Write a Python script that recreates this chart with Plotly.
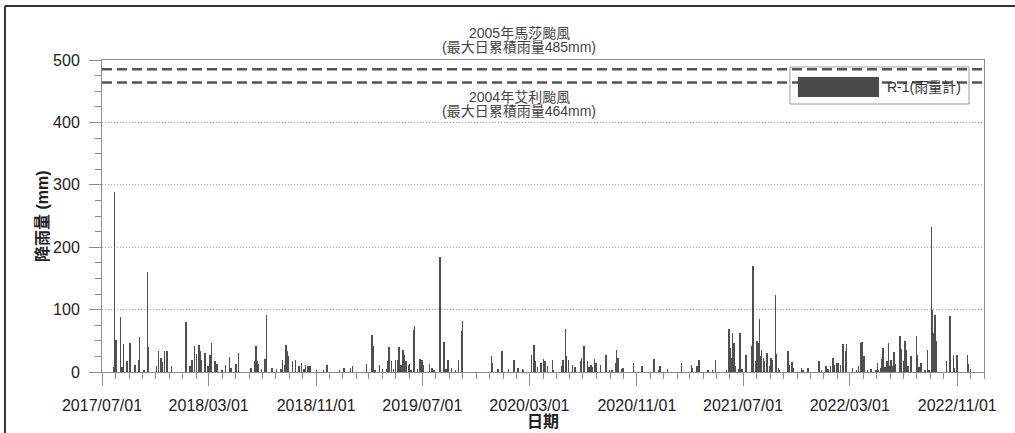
import plotly.graph_objects as go

# Daily rainfall at gauge R-1 (mm)
rain_dates = [
    "2017-07-27", "2017-07-29", "2017-08-02", "2017-08-12", "2017-08-16", "2017-08-19",
    "2017-08-27", "2017-09-03", "2017-09-14", "2017-09-23", "2017-09-24", "2017-10-05",
    "2017-10-13", "2017-10-14", "2017-11-02", "2017-11-07", "2017-11-13", "2017-11-15",
    "2017-11-20", "2017-11-26", "2017-12-06", "2018-01-07", "2018-01-08", "2018-01-09",
    "2018-01-18", "2018-01-22", "2018-01-28", "2018-02-01", "2018-02-07", "2018-02-09",
    "2018-02-11", "2018-02-21", "2018-02-27", "2018-03-04", "2018-03-08", "2018-03-15",
    "2018-03-20", "2018-04-01", "2018-04-08", "2018-04-18", "2018-04-21", "2018-05-03",
    "2018-05-08", "2018-06-05", "2018-06-15", "2018-06-17", "2018-06-20", "2018-06-23",
    "2018-06-29", "2018-07-07", "2018-07-11", "2018-07-24", "2018-08-03", "2018-08-13",
    "2018-08-16", "2018-08-21", "2018-08-24", "2018-08-26", "2018-08-29", "2018-09-08",
    "2018-09-15", "2018-09-23", "2018-09-29", "2018-10-04", "2018-10-08", "2018-10-13",
    "2018-10-18", "2018-11-02", "2018-11-18", "2018-11-26", "2018-12-24", "2019-01-03",
    "2019-01-18", "2019-01-23", "2019-02-24", "2019-03-08", "2019-03-10", "2019-03-15",
    "2019-03-25", "2019-04-01", "2019-04-10", "2019-04-14", "2019-04-16", "2019-04-22",
    "2019-04-26", "2019-05-01", "2019-05-06", "2019-05-09", "2019-05-14", "2019-05-18",
    "2019-05-21", "2019-05-25", "2019-05-30", "2019-06-02", "2019-06-05", "2019-06-11",
    "2019-06-13", "2019-06-20", "2019-06-26", "2019-06-30", "2019-07-03", "2019-07-17",
    "2019-07-23", "2019-07-28", "2019-08-09", "2019-08-10", "2019-08-19", "2019-08-24",
    "2019-08-29", "2019-09-05", "2019-09-15", "2019-09-21", "2019-09-30", "2019-10-01",
    "2019-12-06", "2019-12-07", "2019-12-20", "2019-12-29", "2019-12-31", "2020-01-13",
    "2020-01-26", "2020-02-04", "2020-02-14", "2020-02-17", "2020-03-06", "2020-03-11",
    "2020-03-14", "2020-03-19", "2020-03-28", "2020-04-02", "2020-04-06", "2020-04-11",
    "2020-04-23", "2020-04-24", "2020-05-13", "2020-05-17", "2020-05-22", "2020-05-24",
    "2020-05-29", "2020-06-07", "2020-06-13", "2020-06-25", "2020-06-28", "2020-07-02",
    "2020-07-04", "2020-07-11", "2020-07-15", "2020-07-19", "2020-07-22", "2020-07-27",
    "2020-07-31", "2020-08-10", "2020-08-22", "2020-08-31", "2020-09-05", "2020-09-13",
    "2020-09-16", "2020-09-19", "2020-09-28", "2020-09-30", "2020-10-24", "2020-11-13",
    "2020-12-10", "2020-12-20", "2020-12-24", "2021-01-10", "2021-02-11", "2021-03-05",
    "2021-03-08", "2021-03-18", "2021-03-22", "2021-04-12", "2021-04-22", "2021-04-29",
    "2021-05-24", "2021-05-30", "2021-06-01", "2021-06-05", "2021-06-07", "2021-06-10",
    "2021-06-14", "2021-06-21", "2021-06-24", "2021-06-28", "2021-07-08", "2021-07-20",
    "2021-07-22", "2021-07-24", "2021-07-31", "2021-08-02", "2021-08-05", "2021-08-07",
    "2021-08-10", "2021-08-12", "2021-08-16", "2021-08-19", "2021-08-23", "2021-08-25",
    "2021-08-31", "2021-09-03", "2021-09-06", "2021-09-13", "2021-09-15", "2021-09-20",
    "2021-09-22", "2021-10-11", "2021-10-14", "2021-10-21", "2021-10-23", "2021-11-11",
    "2021-11-14", "2021-11-26", "2021-12-21", "2021-12-27", "2022-01-06", "2022-01-10",
    "2022-01-16", "2022-01-22", "2022-01-24", "2022-01-31", "2022-02-03", "2022-02-08",
    "2022-02-14", "2022-02-19", "2022-02-22", "2022-03-07", "2022-03-16", "2022-03-21",
    "2022-03-26", "2022-03-29", "2022-04-02", "2022-04-11", "2022-04-19", "2022-04-30",
    "2022-05-03", "2022-05-05", "2022-05-11", "2022-05-14", "2022-05-16", "2022-05-21",
    "2022-05-25", "2022-05-28", "2022-05-30", "2022-06-03", "2022-06-06", "2022-06-10",
    "2022-06-13", "2022-06-23", "2022-06-26", "2022-07-02", "2022-07-05", "2022-07-08",
    "2022-07-12", "2022-07-19", "2022-07-31", "2022-08-02", "2022-08-06", "2022-08-11",
    "2022-08-20", "2022-08-25", "2022-08-29", "2022-09-03", "2022-09-04", "2022-09-08",
    "2022-09-11", "2022-09-13", "2022-10-08", "2022-10-15", "2022-10-16", "2022-10-17",
    "2022-10-23", "2022-10-26", "2022-10-31", "2022-11-02", "2022-11-24", "2022-11-26",
    "2022-12-01",
]
rain_mm = [
    8, 289, 51, 88, 8, 45,
    18, 46, 11, 20, 56, 3,
    160, 40, 9, 33, 22, 16,
    33, 34, 10, 38, 80, 30,
    10, 19, 41, 29, 43, 33,
    20, 30, 10, 27, 46, 17,
    13, 4, 12, 24, 7, 13,
    30, 6, 18, 42, 18, 13,
    5, 21, 92, 6, 5, 5,
    19, 11, 44, 34, 25, 18,
    20, 9, 14, 5, 11, 9,
    9, 3, 3, 11, 3, 7,
    7, 9, 13, 59, 41, 3,
    12, 5, 5, 18, 40, 18,
    5, 19, 20, 40, 11, 36,
    28, 17, 11, 13, 4, 68,
    73, 5, 21, 20, 12, 13,
    6, 3, 58, 185, 48, 5,
    20, 6, 3, 20, 66, 81,
    26, 14, 5, 34, 14, 5,
    19, 6, 5, 3, 28, 44,
    18, 8, 15, 21, 17, 9,
    20, 4, 9, 19, 69, 25,
    20, 12, 8, 18, 23, 34,
    42, 17, 8, 11, 8, 21,
    14, 12, 27, 4, 3, 14,
    36, 23, 5, 6, 15, 9,
    21, 4, 9, 5, 14, 11,
    6, 9, 20, 3, 4, 20,
    3, 69, 38, 22, 63, 46,
    10, 5, 62, 5, 27, 42,
    81, 170, 18, 50, 46, 85,
    25, 36, 22, 17, 20, 31,
    9, 23, 20, 124, 29, 7,
    4, 34, 11, 16, 6, 7,
    4, 7, 17, 2, 9, 5,
    9, 22, 12, 14, 15, 12,
    45, 33, 45, 7, 3, 10,
    46, 48, 25, 3, 5, 3,
    14, 3, 7, 21, 38, 8,
    18, 46, 9, 20, 9, 32,
    13, 57, 37, 18, 50, 36,
    10, 25, 58, 28, 8, 15,
    3, 36, 4, 233, 99, 62,
    91, 49, 17, 7, 90, 62,
    27, 7, 27, 6, 27, 13,
    5,
]

# Record typhoon daily totals shown as reference lines
record_values = [485, 464]
record_labels = [
    ["2005年馬莎颱風", "(最大日累積雨量485mm)"],
    ["2004年艾利颱風", "(最大日累積雨量464mm)"],
]

series_name = "R-1(雨量計)"
x_title = "日期"
y_title = "降雨量 (mm)"

TXT_FONT = "Liberation Sans, Arial, Noto Sans CJK TC, sans-serif"
DAY_MS = 86400000

fig = go.Figure()
fig.add_trace(go.Bar(
    x=rain_dates,
    y=rain_mm,
    width=1.3 * DAY_MS,
    marker=dict(color="#4f4f4f", line=dict(width=0)),
    name=series_name,
    showlegend=False,
))

fig.update_layout(
    width=1015,
    height=433,
    margin=dict(l=102, r=31, t=60, b=61),
    paper_bgcolor="white",
    plot_bgcolor="white",
    font=dict(family=TXT_FONT, color="#222222", size=16),
    bargap=0,
)

fig.update_xaxes(
    type="date",
    range=["2017-07-01", "2023-01-01"],
    tick0="2017-07-01",
    dtick="M8",
    tickformat="%Y/%m/%d",
    ticks="outside",
    ticklen=13,
    tickcolor="#8c8c8c",
    tickwidth=1,
    ticklabelstandoff=6,
    tickfont=dict(size=16, color="#222222"),
    minor=dict(dtick="M1", tick0="2017-07-01", ticks="outside", ticklen=6,
               tickcolor="#8c8c8c", showgrid=False),
    showline=True,
    linecolor="#8c8c8c",
    linewidth=1,
    mirror=True,
    showgrid=False,
    zeroline=False,
)

fig.update_yaxes(
    range=[0, 500],
    dtick=100,
    ticks="outside",
    ticklen=12,
    tickcolor="#8c8c8c",
    ticklabelstandoff=6,
    tickfont=dict(size=16, color="#222222"),
    minor=dict(dtick=25, ticks="outside", ticklen=6, tickcolor="#8c8c8c", showgrid=False),
    showline=True,
    linecolor="#8c8c8c",
    linewidth=1,
    mirror=True,
    showgrid=True,
    gridcolor="#a8a8a8",
    griddash="1px,2px",
    gridwidth=1,
    zeroline=False,
)

shapes = []
# Dashed reference lines for the two record typhoons
for v in record_values:
    shapes.append(dict(type="line", xref="paper", yref="y", x0=0, x1=1, y0=v, y1=v,
                       line=dict(color="#555555", width=2.5, dash="10px,5px"), layer="above"))

# Legend box and swatch
shapes.append(dict(type="rect", xref="paper", yref="paper", x0=0.780, x1=0.983,
                   y0=0.859, y1=0.9776, line=dict(color="#9a9a9a", width=1),
                   fillcolor="rgba(0,0,0,0)", layer="above"))
shapes.append(dict(type="rect", xref="paper", yref="paper", x0=0.789, x1=0.881,
                   y0=0.8814, y1=0.9455, line=dict(width=0),
                   fillcolor="#4a4a4a", layer="above"))

# Outer frame (left and top edges)
shapes.append(dict(type="line", xref="paper", yref="paper", x0=-0.110, x1=-0.110,
                   y0=-0.25, y1=1.173, line=dict(color="#333333", width=2)))
shapes.append(dict(type="line", xref="paper", yref="paper", x0=-0.110, x1=1.05,
                   y0=1.173, y1=1.173, line=dict(color="#333333", width=2)))

fig.update_layout(shapes=shapes)

annotations = []
label_y = [[1.0865, 1.0426], [0.8804, 0.8375]]
for lines, ys in zip(record_labels, label_y):
    for txt, yy in zip(lines, ys):
        annotations.append(dict(text=txt, xref="paper", yref="paper", x=0.4728, y=yy,
                                xanchor="center", yanchor="middle", showarrow=False,
                                font=dict(family=TXT_FONT, size=14, color="#444444")))

annotations.append(dict(text=series_name, xref="paper", yref="paper", x=0.932, y=0.9135,
                        xanchor="center", yanchor="middle", showarrow=False,
                        font=dict(family=TXT_FONT, size=14, color="#333333")))

annotations.append(dict(text="<b>" + y_title + "</b>", xref="paper", yref="paper",
                        x=-0.068, y=0.5, textangle=-90, xanchor="center", yanchor="middle",
                        showarrow=False, font=dict(family=TXT_FONT, size=16, color="#222222")))
annotations.append(dict(text="<b>" + x_title + "</b>", xref="paper", yref="paper",
                        x=0.5, y=-0.16, xanchor="center", yanchor="middle",
                        showarrow=False, font=dict(family=TXT_FONT, size=16, color="#222222")))

fig.update_layout(annotations=annotations)

fig.write_html("out.html")
